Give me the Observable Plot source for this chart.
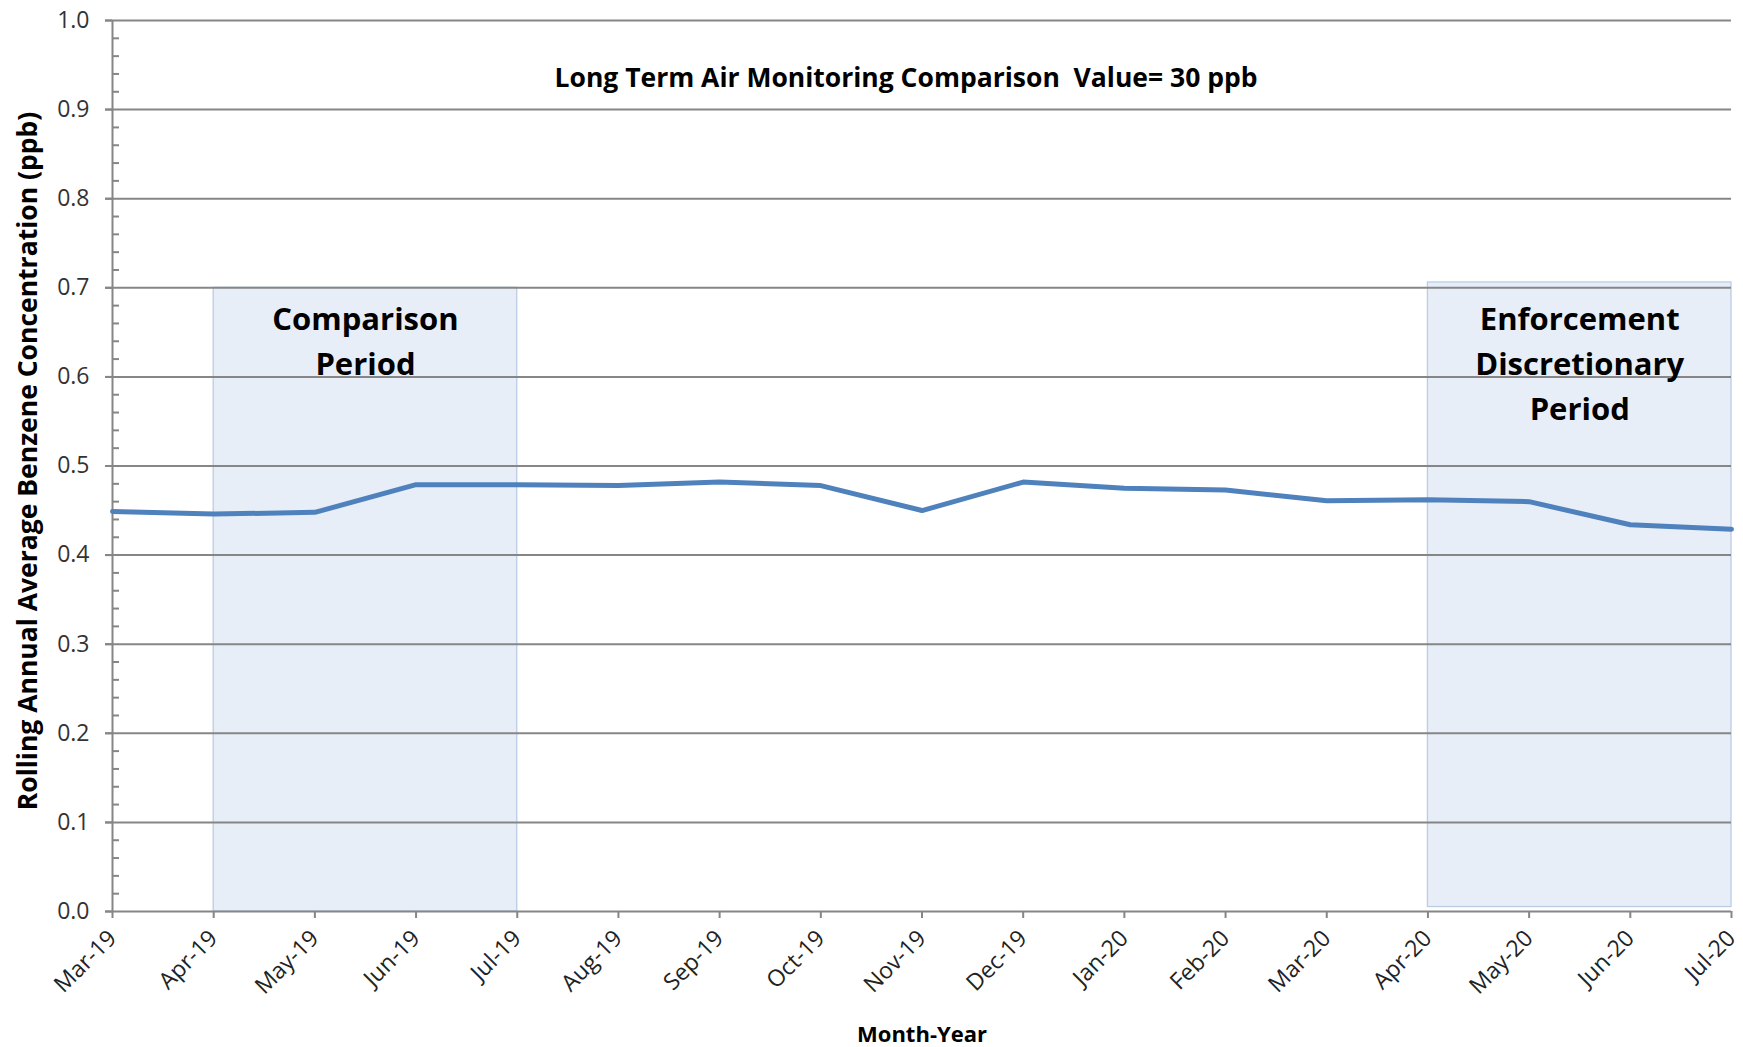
<!DOCTYPE html>
<html><head><meta charset="utf-8">
<script src="https://cdn.jsdelivr.net/npm/d3@7"></script>
<script src="https://cdn.jsdelivr.net/npm/@observablehq/plot@0.6"></script>
<style>body{margin:0;background:#fff} svg{display:block} .keepspace text{white-space:pre}</style>
</head><body><div id="chart"></div>
<script>
const months = ["Mar-19","Apr-19","May-19","Jun-19","Jul-19","Aug-19","Sep-19","Oct-19","Nov-19","Dec-19","Jan-20","Feb-20","Mar-20","Apr-20","May-20","Jun-20","Jul-20"];
const benzene = [0.449,0.446,0.448,0.479,0.479,0.478,0.482,0.478,0.450,0.482,0.475,0.473,0.461,0.462,0.460,0.434,0.429];
const periodNames = ["Comparison\nPeriod","Enforcement\nDiscretionary\nPeriod"];
const periodStart = ["Apr-19","Apr-20"];
const periodEnd = ["Jul-19","Jul-20"];
const periodLow = [0, 0.005];
const periodHigh = [0.7, 0.706];
const periodLabelY = [0.7, 0.7];
const majorTicks = [0,0.1,0.2,0.3,0.4,0.5,0.6,0.7,0.8,0.9,1.0];
const minorTicks = [0.02,0.04,0.06,0.08,0.12,0.14,0.16,0.18,0.22,0.24,0.26,0.28,0.32,0.34,0.36,0.38,0.42,0.44,0.46,0.48,0.52,0.54,0.56,0.58,0.62,0.64,0.66,0.68,0.72,0.74,0.76,0.78,0.82,0.84,0.86,0.88,0.92,0.94,0.96,0.98];
const titleText = "Long Term Air Monitoring Comparison  Value= 30 ppb";
const yTitle = "Rolling Annual Average Benzene Concentration (ppb)";
const xTitle = "Month-Year";

const data = months.map((m, i) => ({i, month: m, value: benzene[i]}));
const periods = periodNames.map((n, k) => ({
  name: n,
  x1: months.indexOf(periodStart[k]),
  x2: months.indexOf(periodEnd[k]),
  y1: periodLow[k], y2: periodHigh[k], ly: periodLabelY[k]
}));
const monthIdx = months.map((m, i) => i);
const gray = "#868686";
const font = "'Open Sans', sans-serif";

const chart = Plot.plot({
  width: 1743, height: 1047,
  marginLeft: 112, marginRight: 12, marginTop: 20, marginBottom: 136,
  x: {domain: [0, months.length - 1]},
  y: {domain: [0, 1]},
  style: {fontFamily: font, fontSize: "22px", background: "#fff", color: "#333"},
  marks: [
    Plot.rect(periods, {x1: "x1", x2: "x2", y1: "y1", y2: "y2", fill: "#e7eef8", stroke: "#b9cde5", strokeWidth: 1.3}),
    Plot.ruleY(majorTicks, {stroke: gray, strokeWidth: 2, insetLeft: -7}),
    Plot.ruleX([0], {stroke: gray, strokeWidth: 2}),
    Plot.axisY(majorTicks, {tickSize: 7, tickPadding: 16, tickFormat: d3.format(".1f"), stroke: gray, strokeWidth: 2, fill: "#333", fontSize: 23, label: null}),
    Plot.axisY(minorTicks, {tickSize: -7, tickFormat: () => "", stroke: gray, strokeWidth: 2, label: null}),
    Plot.axisX(monthIdx, {tickSize: 7, tickPadding: 16, tickRotate: -45, tickFormat: i => months[i], stroke: gray, strokeWidth: 2, fill: "#222", fontSize: 23, label: null}),
    Plot.line(data, {x: "i", y: "value", stroke: "#4f81bd", strokeWidth: 5, strokeLinejoin: "round"}),
    Plot.text(periods, {x: d => (d.x1 + d.x2) / 2, y: "ly", text: "name", lineAnchor: "top", dy: 10, fontSize: 31, fontWeight: "bold", fill: "#000", lineHeight: 1.45}),
    Plot.text([titleText], {frameAnchor: "top", dy: 58, dx: -16, lineAnchor: "middle", fontSize: 26.5, fontWeight: "bold", fill: "#000", className: "keepspace"}),
    Plot.text([yTitle], {frameAnchor: "left", dx: -84, dy: -5, rotate: -90, textAnchor: "middle", lineAnchor: "middle", fontSize: 26.5, fontWeight: "bold", fill: "#000"}),
    Plot.text([xTitle], {frameAnchor: "bottom", dy: 123, lineAnchor: "middle", fontSize: 22, fontWeight: "bold", fill: "#000"})
  ]
});
document.getElementById("chart").appendChild(chart);
</script>
</body></html>
